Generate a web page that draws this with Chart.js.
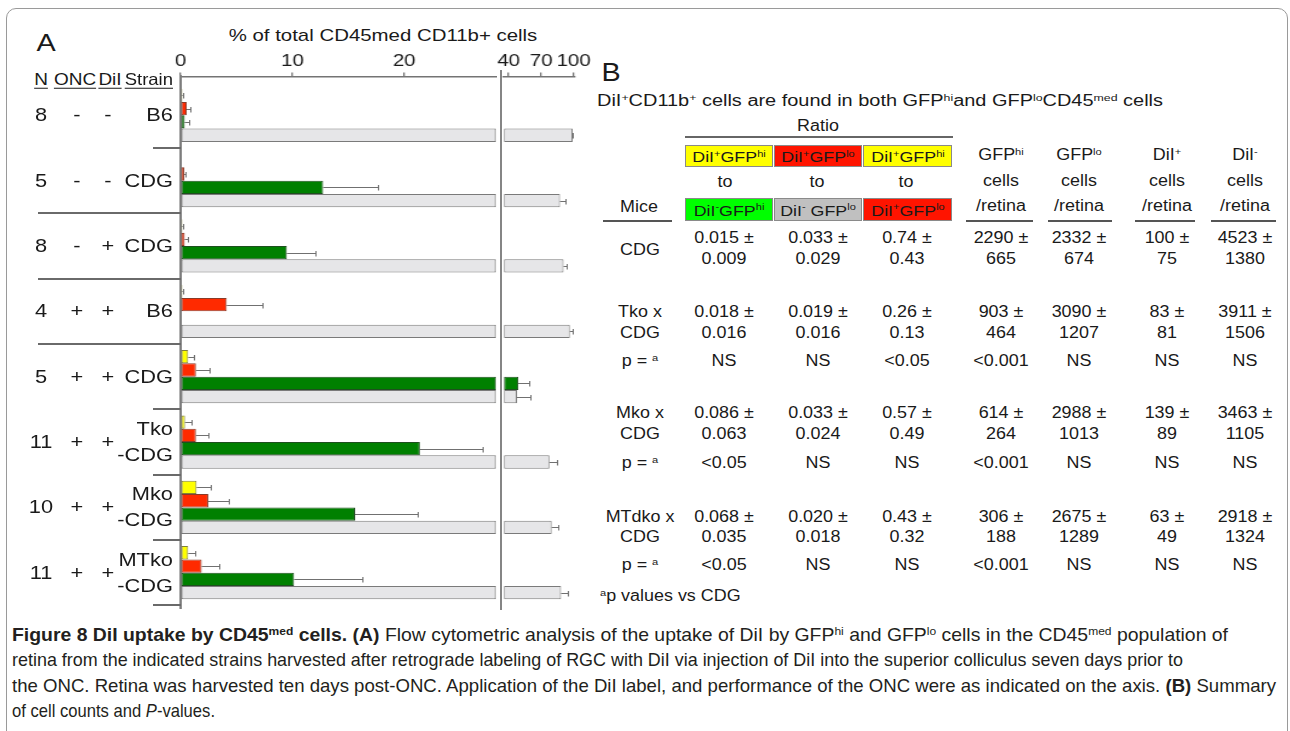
<!DOCTYPE html>
<html><head><meta charset="utf-8">
<script src="https://cdn.jsdelivr.net/npm/chart.js@4.4.1/dist/chart.umd.min.js"></script>
<style>
html,body{margin:0;padding:0;background:#fff;}
#root{position:relative;width:1290px;height:731px;overflow:hidden;font-family:"Liberation Sans",Arial,Helvetica,sans-serif;color:#1a1a1a;}
.t{position:absolute;white-space:nowrap;line-height:1;}
.sp{font-size:0.62em;position:relative;top:-0.55em;}
.cap{font-family:"Liberation Sans Narrow","Liberation Sans",Arial,sans-serif;color:#231f20;}
canvas{position:absolute;}
.hl{position:absolute;background:#5a5a5a;}
.box{position:absolute;box-sizing:border-box;border:1px solid #8a8a8a;}
</style></head>
<body><div id="root"><div id="frame" style="position:absolute;left:6px;top:8px;width:1282px;height:800px;border:1.5px solid #9a9a9a;border-radius:10px;box-sizing:border-box;"></div></div>
<script>
// ---------------- data ----------------
const GROUP_N      = ['8','5','8','4','5','11','10','11'];
const GROUP_ONC    = ['-','-','-','+','+','+','+','+'];
const GROUP_DII    = ['-','-','+','+','+','+','+','+'];
const GROUP_STRAIN = [['B6'],['CDG'],['CDG'],['B6'],['CDG'],['Tko','-CDG'],['Mko','-CDG'],['MTko','-CDG']];
const SERIES_NAMES = ['DiI+GFPhi','DiI+GFPlo','DiI-GFPhi','DiI-GFPlo'];
const YELLOW     = [0.15, 0,    0.15, 0.15, 0.68, 0.39, 1.43, 0.68];
const YELLOW_ERR = [0.05, 0,    0.05, 0.05, 0.52, 0.60, 1.27, 0.66];
const RED        = [0.54, 0.33, 0.36, 4.12, 1.37, 1.37, 2.47, 1.88];
const RED_ERR    = [0.30, 0.08, 0.32, 3.20, 1.19, 1.10, 1.80, 1.55];
const GREEN      = [0.36, 12.75, 9.5, 0,    48.9, 21.4, 15.6, 10.15];
const GREEN_ERR  = [0.35, 4.85, 2.6,  0,    10.2, 5.65, 5.6,  6.15];
const GRAY       = [99.1, 87.4, 90.7, 96.5, 47.7, 77.6, 79.7, 88.4];
const GRAY_ERR   = [0.4,  4.9,  2.8,  2.8,  12.3, 6.7,  6.5,  6.4];
const MAIN_TICKS   = [0, 10, 20];
const BROKEN_TICKS = [40, 70, 100];
const X_TITLE = '% of total CD45med CD11b+ cells';

// table (panel B)
const MICE    = [['CDG'],['Tko x','CDG'],['Mko x','CDG'],['MTdko x','CDG']];
const RATIO1  = [['0.015','0.009'],['0.018','0.016'],['0.086','0.063'],['0.068','0.035']];
const RATIO2  = [['0.033','0.029'],['0.019','0.016'],['0.033','0.024'],['0.020','0.018']];
const RATIO3  = [['0.74','0.43'],['0.26','0.13'],['0.57','0.49'],['0.43','0.32']];
const GFPHI   = [['2290','665'],['903','464'],['614','264'],['306','188']];
const GFPLO   = [['2332','674'],['3090','1207'],['2988','1013'],['2675','1289']];
const DIIPOS  = [['100','75'],['83','81'],['139','89'],['63','49']];
const DIINEG  = [['4523','1380'],['3911','1506'],['3463','1105'],['2918','1324']];
const P_VALUES = [null,
  ['NS','NS','<0.05','<0.001','NS','NS','NS'],
  ['<0.05','NS','NS','<0.001','NS','NS','NS'],
  ['<0.05','NS','NS','<0.001','NS','NS','NS']];

// ---------------- layout / style ----------------
const S = 1.2;                 // horizontal stretch of the figure
const MAIN_MAX = 28.3, MAIN_CLAMP = 28.22;
const BROKEN_MIN = 35.4, BROKEN_MAX = 100.6, BROKEN_BASE = 35.7;
const Y_MIN = -0.595, Y_MAX = 7.555;
const COLORS  = ['#ffff00','#ff2a00','#008000','#e6e6e8'];
const BORDERS = ['#80803a','#8a3a28','#1e4f1e','#7a7a7a'];
const VALUES = [YELLOW, RED, GREEN, GRAY];
const ERRS   = [YELLOW_ERR, RED_ERR, GREEN_ERR, GRAY_ERR];

Chart.defaults.font.family = '"Liberation Sans", Arial, sans-serif';
Chart.defaults.animation = false;
const root = document.getElementById('root');

const errPlugin = {
  id: 'errbars',
  afterDatasetsDraw(chart) {
    const {ctx, chartArea: a, scales: {x}} = chart;
    ctx.save();
    ctx.beginPath(); ctx.rect(a.left, a.top, a.right - a.left, a.bottom - a.top); ctx.clip();
    ctx.strokeStyle = '#707070'; ctx.lineWidth = 1;
    ctx.beginPath();
    chart.data.datasets.forEach((ds, di) => {
      const meta = chart.getDatasetMeta(di);
      meta.data.forEach((el, i) => {
        const v = ds.rawVals[i], e = ds.errVals[i];
        if (!v || !e || !isFinite(el.y) || ds.data[i].x === null) return;
        const x0 = x.getPixelForValue(v), x1 = x.getPixelForValue(v + e);
        const y = Math.round(el.y) + 0.5, xe = Math.round(x1) + 0.5;
        ctx.moveTo(x0, y); ctx.lineTo(xe, y);
        ctx.moveTo(xe, y - 2.5); ctx.lineTo(xe, y + 3);
      });
    });
    ctx.stroke(); ctx.restore();
  }
};

function datasets(mapVal, extra) {
  return SERIES_NAMES.map((name, s) => Object.assign({
    label: name,
    data: VALUES[s].map((v, i) => ({x: mapVal(v), y: i})),
    rawVals: VALUES[s], errVals: ERRS[s],
    backgroundColor: COLORS[s], borderColor: BORDERS[s], borderWidth: 1,
    borderSkipped: false, categoryPercentage: 0.815, barPercentage: 1, clip: 0
  }, extra || {}));
}
function yScale(showBorder) {
  return {type: 'linear', min: Y_MIN, max: Y_MAX, reverse: true, offset: false,
    afterBuildTicks: s => { s.ticks = GROUP_N.map((_, i) => ({value: i})); },
    ticks: {display: false}, grid: {display: false, offset: false},
    border: {display: showBorder, color: '#7d7d7d', width: 2}};
}
function xScale(min, max, ticks) {
  return {type: 'linear', position: 'top', min, max, offset: false,
    afterBuildTicks: s => { s.ticks = ticks.map(v => ({value: v})); },
    ticks: {font: {size: 17}, color: '#1a1a1a', padding: 1, maxRotation: 0, minRotation: 0, autoSkip: false},
    grid: {drawOnChartArea: false, drawTicks: true, tickLength: 4, color: '#747474', lineWidth: 1.3},
    border: {display: true, color: '#747474', width: 1.5}};
}
function mainCfg() {
  return {type: 'bar',
    data: {datasets: datasets(v => v > 0 ? Math.min(v, MAIN_CLAMP) : null)},
    options: {indexAxis: 'y', responsive: false, animation: false,
      layout: {padding: 0},
      plugins: {legend: {display: false}, tooltip: {enabled: false}},
      scales: {x: xScale(0, MAIN_MAX, MAIN_TICKS), y: yScale(true)}},
    plugins: [errPlugin]};
}
function brokenCfg() {
  return {type: 'bar',
    data: {datasets: datasets(v => v > BROKEN_BASE ? v : null, {base: BROKEN_BASE})},
    options: {indexAxis: 'y', responsive: false, animation: false,
      layout: {padding: 0},
      plugins: {legend: {display: false}, tooltip: {enabled: false}},
      scales: {x: xScale(BROKEN_MIN, BROKEN_MAX, BROKEN_TICKS), y: yScale(false)}},
    plugins: [errPlugin]};
}
function makeChart(cfgFn, target) {
  const canvas = document.createElement('canvas');
  root.appendChild(canvas);
  const create = (W, H) => {
    canvas.setAttribute('width', W); canvas.setAttribute('height', H);
    canvas.style.width = (W * S) + 'px'; canvas.style.height = H + 'px';
    return new Chart(canvas, cfgFn());
  };
  let W = Math.round((target.right - target.left) / S) + 100, H = target.bottom - target.top + 100;
  let ch = create(W, H), a = ch.chartArea;
  const W2 = Math.round(W - (a.right - a.left) + (target.right - target.left) / S);
  const H2 = Math.round(H - (a.bottom - a.top) + (target.bottom - target.top));
  ch.destroy();
  ch = create(W2, H2); a = ch.chartArea;
  const offX = target.left - a.left * S, offY = Math.round(target.top - a.top);
  canvas.style.left = offX + 'px'; canvas.style.top = offY + 'px';
  return {chart: ch, offX, offY};
}

function txt(html, x, y, o = {}) {
  const d = document.createElement('div');
  d.className = 't' + (o.cls ? ' ' + o.cls : '');
  d.innerHTML = html;
  d.style.fontSize = (o.size || 16) + 'px';
  if (o.bold) d.style.fontWeight = 'bold';
  if (o.u) { d.style.textDecoration = 'underline'; d.style.textUnderlineOffset = '3px'; d.style.textDecorationThickness = '1.3px'; }
  d.style.left = x + 'px'; d.style.top = y + 'px';
  const al = o.align || 'center';
  const tx = al === 'center' ? '-50%' : al === 'right' ? '-100%' : '0';
  d.style.transformOrigin = (al === 'center' ? '50%' : al === 'right' ? '100%' : '0') + ' 50%';
  root.appendChild(d);
  let sx = o.sx || S;
  if (o.fit) sx = o.fit / d.getBoundingClientRect().width;
  d.style.transform = `translate(${tx},-50%) scaleX(${sx})`;
  return d;
}
function hline(x1, x2, y, h, color) {
  const d = document.createElement('div'); d.className = 'hl';
  d.style.left = x1 + 'px'; d.style.width = (x2 - x1) + 'px';
  d.style.top = (y - h / 2) + 'px'; d.style.height = h + 'px';
  if (color) d.style.background = color;
  root.appendChild(d);
}
function vline(x, y1, y2, w, color) {
  const d = document.createElement('div'); d.className = 'hl';
  d.style.left = (x - w / 2) + 'px'; d.style.width = w + 'px';
  d.style.top = y1 + 'px'; d.style.height = (y2 - y1) + 'px';
  d.style.background = color; root.appendChild(d);
}

// ---------------- panel A ----------------
const main = makeChart(mainCfg, {left: 181, top: 76, right: 497, bottom: 609});
const brk  = makeChart(brokenCfg, {left: 504, top: 76, right: 575, bottom: 609});
vline(501, 70, 610, 2.4, '#858585');

txt('A', 46, 43, {size: 24, sx: 1.2});
txt(X_TITLE, 383, 35, {size: 17, sx: 1.2});
txt('N', 41, 79, {size: 16.5, u: true, sx: 1.15});
txt('ONC', 74.5, 79, {size: 16.5, u: true, sx: 1.15});
txt('DiI', 109.5, 79, {size: 16.5, u: true, sx: 1.15});
txt('Strain', 173, 79, {size: 16.5, u: true, sx: 1.12, align: 'right'});

const ys = main.chart.scales.y;
const yc = i => main.offY + ys.getPixelForValue(i);
GROUP_N.forEach((n, i) => {
  const y = yc(i);
  txt(n, 41, y, {size: 18.5, sx: 1.18});
  txt(GROUP_ONC[i], 77.4, y, {size: 18.5, sx: 1.18});
  txt(GROUP_DII[i], 107.8, y, {size: 18.5, sx: 1.18});
  const st = GROUP_STRAIN[i];
  if (st.length === 1) txt(st[0], 173, y, {size: 18.5, sx: 1.18, align: 'right'});
  else { txt(st[0], 173, y - 13, {size: 18.5, sx: 1.18, align: 'right'}); txt(st[1], 173, y + 13, {size: 18.5, sx: 1.18, align: 'right'}); }
  const yb = yc(i + 0.5);
  const long = (i >= 1 && i <= 3);
  hline(long ? 38 : 153, 181, yb, 2, '#6a6a6a');
});

// ---------------- panel B ----------------
const FS = 16, SB = 1.12;
const COLX = [640, 724, 818, 907, 1001, 1079, 1167, 1245];
txt('B', 611, 72, {size: 25, sx: 1.15});
txt('DiI<span class="sp">+</span>CD11b<span class="sp">+</span> cells are found in both GFP<span class="sp">hi</span>and GFP<span class="sp">lo</span>CD45<span class="sp">med</span> cells', 597, 101, {size: 16, align: 'left', fit: 566});
txt('Ratio', 818, 126, {size: FS, sx: SB});
hline(685, 953, 137, 1.5, '#666');
const BOX_X = [[685, 773], [774, 862], [863, 952]];
const TOP_BOX = [['#ffff00', 'DiI<span class="sp">+</span>GFP<span class="sp">hi</span>'], ['#ff1400', 'DiI<span class="sp">+</span>GFP<span class="sp">lo</span>'], ['#ffff00', 'DiI<span class="sp">+</span>GFP<span class="sp">hi</span>']];
const BOT_BOX = [['#00ff00', 'DiI<span class="sp">-</span>GFP<span class="sp">hi</span>'], ['#c0c0c0', 'DiI<span class="sp">-</span> GFP<span class="sp">lo</span>'], ['#ff1400', 'DiI<span class="sp">+</span>GFP<span class="sp">lo</span>']];
function box(x1, x2, y1, y2, col, html) {
  const d = document.createElement('div'); d.className = 'box';
  d.style.left = x1 + 'px'; d.style.top = y1 + 'px'; d.style.width = (x2 - x1) + 'px'; d.style.height = (y2 - y1) + 'px';
  d.style.background = col; root.appendChild(d);
  txt(html, (x1 + x2) / 2, (y1 + y2) / 2 + 1, {size: 15.5, sx: 1.15});
}
BOX_X.forEach((bx, k) => {
  box(bx[0], bx[1], 145, 167, TOP_BOX[k][0], TOP_BOX[k][1]);
  txt('to', [725, 817, 906][k], 182, {size: FS, sx: SB});
  box(bx[0], bx[1], 198, 221, BOT_BOX[k][0], BOT_BOX[k][1]);
});
const HEADS = ['GFP<span class="sp">hi</span>', 'GFP<span class="sp">lo</span>', 'DiI<span class="sp">+</span>', 'DiI<span class="sp">-</span>'];
HEADS.forEach((h, k) => {
  const x = COLX[4 + k];
  txt(h, x, 155, {size: FS, sx: SB});
  txt('cells', x, 181, {size: FS, sx: SB});
  txt('/retina', x, 206, {size: FS, sx: SB});
});
txt('Mice', 639, 207, {size: FS, sx: SB});
[[603, 672], [966, 1033], [1048, 1112], [1135, 1195], [1211, 1276]].forEach(s => hline(s[0], s[1], 221, 1.5, '#555'));

const ROW_Y = [[238, 259], [312, 333, 361], [413, 434, 463], [517, 537, 565]];
const COLS = [RATIO1, RATIO2, RATIO3, GFPHI, GFPLO, DIIPOS, DIINEG];
MICE.forEach((m, r) => {
  const ry = ROW_Y[r];
  if (m.length === 1) txt(m[0], COLX[0], (ry[0] + ry[1]) / 2 + 1, {size: FS, sx: SB});
  else { txt(m[0], COLX[0], ry[0], {size: FS, sx: SB}); txt(m[1], COLX[0], ry[1], {size: FS, sx: SB}); }
  COLS.forEach((col, c) => {
    txt(col[r][0] + ' ±', COLX[c + 1], ry[0], {size: FS, sx: SB});
    txt(col[r][1], COLX[c + 1], ry[1], {size: FS, sx: SB});
  });
  if (P_VALUES[r]) {
    txt('p = <span class="sp">a</span>', COLX[0], ry[2], {size: FS, sx: SB});
    P_VALUES[r].forEach((p, c) => txt(p, COLX[c + 1], ry[2], {size: FS, sx: SB}));
  }
});
txt('<span class="sp">a</span>p values vs CDG', 600, 596, {size: FS, sx: SB, align: 'left'});

// ---------------- caption ----------------
const CAPTION = [
  '<b>Figure 8 DiI uptake by CD45<span class="sp">med</span> cells.</b> <b>(A)</b> Flow cytometric analysis of the uptake of DiI by GFP<span class="sp">hi</span> and GFP<span class="sp">lo</span> cells in the CD45<span class="sp">med</span> population of',
  'retina from the indicated strains harvested after retrograde labeling of RGC with DiI via injection of DiI into the superior colliculus seven days prior to',
  'the ONC. Retina was harvested ten days post-ONC. Application of the DiI label, and performance of the ONC were as indicated on the axis. <b>(B)</b> Summary',
  'of cell counts and <i>P</i>-values.'];
const CAP_W = [1216, 1171, 1264, 203];
const CAP_Y = [635, 660, 686, 711];
CAPTION.forEach((c, i) => txt(c, 12, CAP_Y[i], {size: 18.5, align: 'left', fit: CAP_W[i], cls: 'cap'}));
</script>
</body></html>
